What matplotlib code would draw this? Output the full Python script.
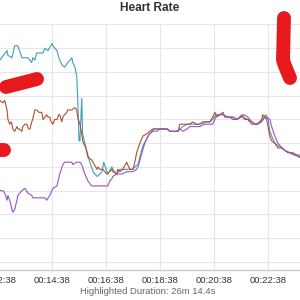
import matplotlib
matplotlib.use("Agg")
import matplotlib.pyplot as plt
from matplotlib.ticker import FuncFormatter, MultipleLocator
from matplotlib.lines import Line2D

# time in seconds from start, heart rate in bpm
teal_t = [750, 762, 778, 780, 789, 795, 802, 811, 818, 824, 833, 835, 840, 844, 851, 858, 862,
          869, 878, 880, 889, 893, 900, 906, 913, 918, 922, 924, 929, 933, 935, 938, 940, 944,
          946, 951, 955, 962, 969, 978, 984, 989, 993, 998, 1002, 1011, 1013, 1022, 1029, 1035,
          1044, 1051, 1058, 1062, 1069, 1073, 1080, 1089, 1095, 1102, 1111, 1118, 1133, 1140,
          1146, 1158, 1162, 1169, 1178, 1191, 1206, 1222, 1229, 1235, 1242, 1251, 1258, 1266,
          1280, 1289, 1295, 1302, 1313, 1322, 1331, 1340, 1349, 1353, 1358, 1362, 1366, 1373,
          1380, 1389, 1395, 1406, 1417, 1429, 1440]
teal_hr = [125, 125, 129, 127, 126, 131, 131, 126, 126, 126, 124, 126, 125, 128, 128, 128, 130,
           129, 132, 131, 129, 126, 123, 122, 124, 125, 126, 124, 122, 118, 109, 91, 91, 109,
           94, 90, 87, 82, 78, 76, 77, 78, 82, 79, 77, 80, 79, 77, 79, 79,
           79, 79, 79, 80, 81, 84, 89, 92, 94, 95, 95, 96, 96, 95,
           95, 95, 96, 97, 98, 98, 98, 99, 99, 100, 102, 102, 102, 101,
           101, 100, 101, 101, 100, 99, 98, 99, 101, 102, 100, 95, 93, 90,
           89, 88, 87, 86, 85, 84, 83]

brown_t = [750, 762, 769, 773, 778, 780, 784, 787, 789, 791, 795, 800, 802, 806, 811, 813, 818,
           822, 826, 829, 833, 835, 840, 844, 849, 855, 858, 862, 866, 869, 873, 876, 880, 884,
           889, 893, 895, 900, 902, 906, 911, 913, 918, 922, 929, 933, 935, 940, 944, 946, 953,
           958, 966, 969, 978, 980, 984, 991, 1000, 1006, 1011, 1013, 1022, 1024, 1029, 1035,
           1044, 1046, 1051, 1058, 1062, 1066, 1073, 1080, 1089, 1095, 1102, 1111, 1133, 1140,
           1146, 1158, 1162, 1169, 1178, 1184, 1191, 1198, 1206, 1213, 1222, 1229, 1235, 1240,
           1244, 1251, 1258, 1262, 1266, 1273, 1280, 1289, 1295, 1300, 1306, 1313, 1322, 1329,
           1335, 1344, 1346, 1351, 1355, 1358, 1362, 1366, 1373, 1380, 1389, 1395, 1402, 1413,
           1422, 1429, 1440]
brown_hr = [107, 108, 107, 108, 104, 100, 98, 99, 98, 96, 95, 97, 96, 96, 95, 97, 98,
            98, 96, 96, 99, 100, 104, 104, 103, 103, 100, 101, 102, 101, 101, 99, 98, 100,
            100, 102, 102, 99, 101, 102, 103, 104, 104, 104, 105, 104, 101, 98, 94, 91, 88,
            84, 83, 82, 79, 80, 79, 79, 77, 78, 79, 78, 77, 79, 78, 79,
            82, 81, 79, 79, 82, 86, 90, 93, 94, 95, 96, 96, 96, 95,
            95, 95, 98, 98, 98, 98, 99, 98, 98, 99, 99, 99, 101, 103,
            101, 102, 103, 101, 101, 101, 100, 100, 101, 102, 100, 100, 98, 98,
            98, 100, 102, 101, 100, 97, 93, 91, 90, 88, 88, 87, 86, 86,
            85, 84, 83]

purple_t = [750, 762, 769, 773, 778, 780, 784, 789, 791, 795, 800, 802, 811, 818, 824, 833, 835,
            844, 855, 862, 866, 873, 880, 889, 895, 902, 906, 918, 922, 924, 933, 940, 944,
            951, 958, 966, 969, 978, 995, 1002, 1006, 1011, 1013, 1022, 1033, 1044, 1058, 1066,
            1069, 1078, 1084, 1091, 1100, 1106, 1113, 1135, 1140, 1155, 1162, 1169, 1178, 1184,
            1206, 1217, 1229, 1235, 1242, 1246, 1258, 1269, 1280, 1289, 1298, 1304, 1313, 1322,
            1329, 1335, 1344, 1351, 1355, 1362, 1366, 1373, 1380, 1389, 1395, 1406, 1417, 1429,
            1440]
purple_hr = [70, 70, 70, 69, 66, 68, 66, 62, 61, 62, 66, 68, 70, 71, 69, 68, 67,
             67, 67, 67, 66, 68, 71, 72, 77, 81, 82, 82, 82, 81, 82, 82, 81,
             77, 74, 72, 72, 72, 72, 72, 74, 75, 76, 77, 77, 78, 78, 79,
             80, 86, 90, 93, 95, 96, 96, 96, 95, 95, 96, 95, 96, 97,
             97, 98, 98, 98, 101, 102, 102, 101, 101, 100, 101, 102, 101, 99,
             98, 98, 99, 101, 101, 100, 97, 93, 90, 88, 87, 86, 85, 85,
             84]

tick_times = [758, 878, 998, 1118, 1238, 1358]

# red marker scribbles over the screenshot (figure pixels, origin top-left)
scribbles = [
    ([6, 37], [87, 79]),
    ([-10, 4], [150, 150]),
    ([284, 283, 285, 290], [18, 60, 66, 78]),
]

fig = plt.figure(figsize=(3, 3), dpi=100)
# the screenshot is cropped, so the plot area runs past both figure edges
ax = fig.add_axes([-10 / 300, 0.1, 320 / 300, 0.82])

ax.plot(teal_t, teal_hr, color="#3f9fbb", lw=0.8)
ax.plot(brown_t, brown_hr, color="#b0502a", lw=0.8)
ax.plot(purple_t, purple_hr, color="#9a52c8", lw=0.8)

ax.set_xticks(tick_times)
ax.set_xlim(740.2, 1451.2)
ax.set_ylim(36.6, 140.2)
ax.yaxis.set_major_locator(MultipleLocator(10))
ax.xaxis.set_major_formatter(FuncFormatter(
    lambda s, p: "%02d:%02d:%02d" % (s // 3600, (s % 3600) // 60, s % 60)))
ax.grid(True, color="#e6e6e6", lw=0.8)
ax.set_axisbelow(True)
for side in ["left", "right", "top"]:
    ax.spines[side].set_visible(False)
ax.spines["bottom"].set_color("#c8ccd2")
ax.spines["bottom"].set_linewidth(1)
ax.tick_params(axis="y", left=False, labelleft=False)
ax.tick_params(axis="x", length=0, pad=4, labelsize=6.8, labelcolor="#333333")
for lab in ax.get_xticklabels():
    lab.set_fontfamily("Liberation Sans")

fig.text(0.5, 0.972, "Heart Rate", ha="center", va="center", fontsize=8.6,
         fontweight="bold", color="#333333", family="Liberation Sans")
fig.text(0.493, 0.03, "Highlighted Duration: 26m 14.4s", ha="center", va="center",
         fontsize=6.8, color="#666666", family="Liberation Sans")

for xs, ys in scribbles:
    fig.add_artist(Line2D([x / 300 for x in xs], [1 - y / 300 for y in ys],
                          transform=fig.transFigure, color="#e8191c", lw=10,
                          solid_capstyle="round", solid_joinstyle="round"))

fig.savefig("out.png", dpi=100)
